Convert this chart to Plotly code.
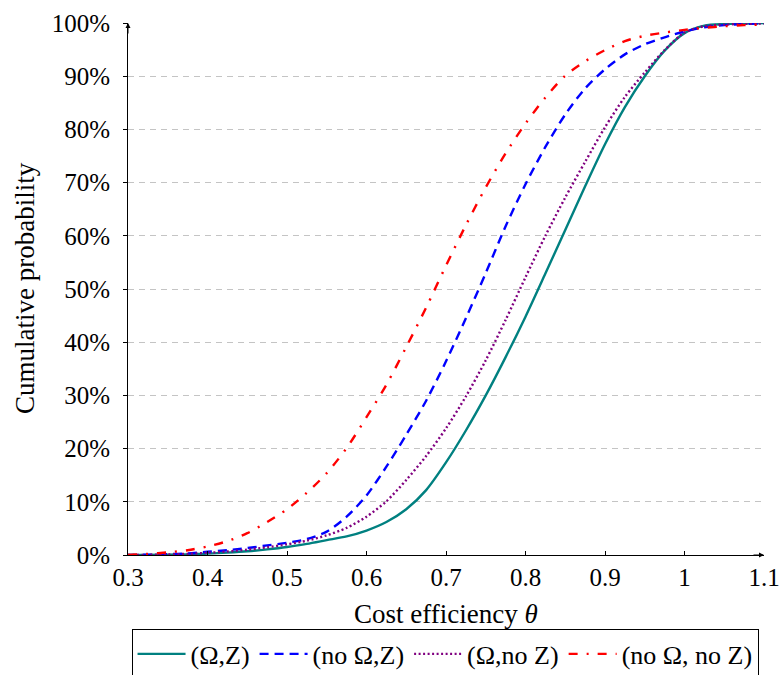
import plotly.graph_objects as go

# Cost efficiency grid (theta) and cumulative probability (%) for each model variant
theta = [0.300, 0.325, 0.350, 0.375, 0.400, 0.425, 0.450, 0.475, 0.500, 0.525,
         0.550, 0.575, 0.600, 0.625, 0.650, 0.675, 0.700, 0.725, 0.750, 0.775,
         0.800, 0.825, 0.850, 0.875, 0.900, 0.925, 0.950, 0.975, 1.000, 1.025,
         1.050, 1.075, 1.100]

cdf_omega_z = [0.0, 0.02, 0.05, 0.12, 0.25, 0.45, 0.7, 1.05, 1.5, 2.1,
               2.8, 3.5, 4.6, 6.2, 8.6, 12.2, 17.4, 23.4, 30.0, 37.2,
               44.8, 52.9, 61.1, 69.3, 77.2, 84.2, 90.0, 94.8, 98.1, 99.5,
               99.8, 99.9, 100.0]
cdf_no_omega_z = [0.0, 0.05, 0.15, 0.3, 0.6, 0.9, 1.3, 1.8, 2.3, 3.0,
                  4.4, 7.2, 11.2, 16.6, 22.6, 29.0, 36.4, 44.5, 53.0, 61.8,
                  69.7, 76.7, 82.8, 87.7, 91.3, 94.1, 96.0, 97.3, 98.4, 99.2,
                  99.6, 99.8, 99.9]
cdf_omega_no_z = [0.0, 0.03, 0.1, 0.22, 0.4, 0.65, 1.0, 1.45, 2.0, 2.7,
                  3.7, 5.1, 7.2, 10.1, 14.1, 18.6, 23.8, 29.8, 36.6, 44.2,
                  52.2, 60.0, 67.2, 73.9, 80.4, 86.1, 90.7, 94.9, 98.2, 99.4,
                  99.7, 99.85, 99.9]
cdf_no_omega_no_z = [0.0, 0.2, 0.5, 0.9, 1.6, 2.6, 4.1, 6.2, 8.6, 11.7,
                     15.4, 20.1, 25.9, 32.0, 39.1, 46.5, 54.4, 62.0, 69.1, 75.5,
                     81.1, 86.0, 90.1, 92.8, 94.9, 96.6, 97.6, 98.2, 98.7, 99.1,
                     99.4, 99.6, 99.7]

series_names = ["(Ω,Z)", "(no Ω,Z)", "(Ω,no Z)", "(no Ω, no Z)"]
series_values = [cdf_omega_z, cdf_no_omega_z, cdf_omega_no_z, cdf_no_omega_no_z]
styles = [
    ("#008080", "solid"),
    ("#0000ff", "9px,6px"),
    ("#800080", "2px,2.5px"),
    ("#ff0000", "9px,9px,2px,9px"),
]

y_ticks = list(range(0, 101, 10))
x_ticks = [0.3, 0.4, 0.5, 0.6, 0.7, 0.8, 0.9, 1.0, 1.1]
x_tick_text = ["0.3", "0.4", "0.5", "0.6", "0.7", "0.8", "0.9", "1", "1.1"]

FONT = "Liberation Serif"

fig = go.Figure()
for name, vals, (color, dash) in zip(series_names, series_values, styles):
    fig.add_trace(go.Scatter(
        x=theta, y=vals, name=name, mode="lines",
        line=dict(color=color, dash=dash, width=2.4, shape="spline", smoothing=0.8),
    ))

fig.update_layout(
    width=782, height=675,
    margin=dict(l=128, r=18, t=23, b=120, autoexpand=False),
    plot_bgcolor="white", paper_bgcolor="white",
    font=dict(family=FONT, size=25, color="black"),
    showlegend=True,
    legend=dict(
        orientation="h", x=0.4985, xanchor="center", y=-0.140, yanchor="top",
        bordercolor="black", borderwidth=1, font=dict(size=26, family=FONT),
        itemwidth=48, tracegroupgap=0,
    ),
    xaxis=dict(
        range=[0.3, 1.1], tickvals=x_ticks, ticktext=x_tick_text, automargin=False,
        showgrid=False, zeroline=False, showline=True, linecolor="black", linewidth=1,
        ticks="inside", ticklen=4, tickcolor="black", ticklabelstandoff=0,
    ),
    yaxis=dict(
        range=[0, 100], tickvals=y_ticks, ticktext=[f"{v}%" for v in y_ticks],
        automargin=False,
        showgrid=True, gridcolor="#c4c4c4", griddash="6px,5px", gridwidth=1,
        zeroline=False, showline=True, linecolor="black", linewidth=1,
        ticks="outside", ticklen=4, tickcolor="black", ticklabelstandoff=8,
    ),
)

# Axis titles
fig.add_annotation(x=0.5, y=-0.110, xref="paper", yref="paper", showarrow=False,
                   text="Cost efficiency <i>θ</i>", font=dict(size=27),
                   xanchor="center", yanchor="middle")
fig.add_annotation(x=-0.162, y=0.502, xref="paper", yref="paper", showarrow=False,
                   text="Cumulative probability", font=dict(size=27), textangle=-90,
                   xanchor="center", yanchor="middle")

# Arrow heads at the ends of both axes
fig.add_annotation(x=1, y=0, xref="paper", yref="paper", ax=-12, ay=0,
                   showarrow=True, arrowhead=2, arrowsize=1, arrowwidth=1,
                   arrowcolor="black", text="")
fig.add_annotation(x=0, y=1, xref="paper", yref="paper", ax=0, ay=12,
                   showarrow=True, arrowhead=2, arrowsize=1, arrowwidth=1,
                   arrowcolor="black", text="")

fig.write_html("out.html")
